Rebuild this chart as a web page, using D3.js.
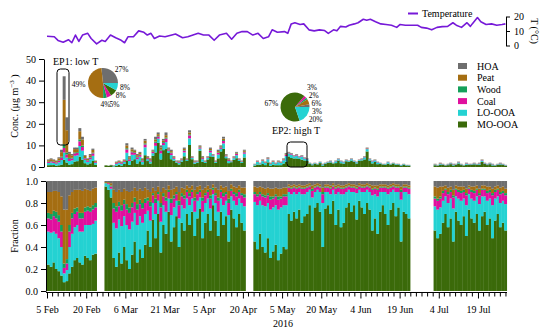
<!DOCTYPE html>
<html><head><meta charset="utf-8">
<script src="https://cdn.jsdelivr.net/npm/d3@7"></script>
<style>
body{margin:0;background:#fff}
svg{display:block}
text{font-family:"Liberation Serif","Times New Roman",serif;fill:#000}
</style>
</head><body>
<svg id="c" width="550" height="333"></svg>
<script>
// ---------------- DATA ----------------
const species = ["MO-OOA","LO-OOA","Coal","Wood","Peat","HOA"];          // stack order bottom -> top
const legendKeys = ["HOA","Peat","Wood","Coal","LO-OOA","MO-OOA"];
const colors = {"HOA":"#6e6e6e","Peat":"#a56e12","Wood":"#14a05a","Coal":"#e0109e","LO-OOA":"#24d2d2","MO-OOA":"#3b6a0a"};

// measurement periods (daily points)
const segStarts  = ["2016-02-05","2016-02-27","2016-04-24","2016-07-02"];
const segLengths = [19,54,60,28];

// total concentration (ug m-3) per day
const total = [
 3.5,4,3.5,3,4.5,8,42,23,7,6,9,9,18,14,5.5,4,6,8.5,3,
 0.8,0.6,1,0.8,2.5,3,2.5,3.5,11,5, 9,8,6,7,4,13,5,4,8,14, 16,10,13,16,9,8,5,3,3,4, 9,4,17,5,3,3,10,5,3,5, 9,6,3,8,10,14,6,4,3,5, 7,4,3,8,
 1.5,3,2,3.5,2.5,4.5,2,3,2,3, 2.5,4,6.5,7,6.5,5.5,6,5,5.5,4.5, 4,2,1.5,2,1.5,2.5,1.5,2,2.5,3, 2,3,4,3,2.5,3.5,3,4,3,2.5, 3.5,4,5,9,4,3,3.5,2.5,2,1.5, 1.5,2.5,1.5,2,1.5,1.5,1,1.5,1,1,
 1.5,1,2,1.5,1,1.5,2,1.5,1.5,2.5, 1.5,1,2,1.5,1.5,2,1.5,2,3.5,2, 1.5,2,1.5,1,1.5,2,1.5,1
];

// fractions (%) per day
const fMO = [
 24,22,26,20,18,14,8,9,16,22,28,30,26,24,32,30,28,33,34,
 95,92,85, 30,22,35,25,40,28,20,33,45,26,38,30,42, 55,40,65,48,70,35,60,52,72,45,58,68,40,62,55,70, 60,72,50,66,75,48,62,70,55,78,64,50,72,60,68,45,74,66,58,70,62,55,
 45,38,52,40,35,48,30,36,42,28,34,40,38, 70,64,72,66,74,62,68,70,78,55, 76,80,72,40,75,78,70,82,60,74, 58,62,76,80,72,78,65,82,76,70, 80,74,55,66,52,72,78,70,60,74, 80,68,76,45,72,70,66,
 55,48,52,62,70,58,66,45,72,64, 60,68,50,74,66,62,70,55,68,72, 60,66,48,64,70,58,62,55
];
const fLO = [
 30,31,28,32,30,26,8,10,24,30,30,30,28,30,28,30,32,28,30,
 3,5,8, 32,35,30,34,28,32,36,30,26,34,30,32,28, 18,24,15,22,12,28,18,20,12,24,18,14,26,16,20,14, 18,12,22,16,10,24,18,14,20,10,16,22,12,18,14,24,12,16,20,14,18,22,
 36,40,30,38,42,32,44,40,36,46,42,38,40, 20,24,18,22,16,26,20,20,14,30, 14,12,18,40,15,12,18,10,28,16, 30,26,14,12,18,12,24,10,14,20, 12,16,32,22,34,18,12,20,28,16, 12,22,14,38,18,20,22,
 22,26,24,20,16,22,18,30,14,20, 22,16,28,14,18,20,16,24,18,14, 22,18,30,20,16,22,20,24
];
const fCoal = [
 12,12,14,14,15,14,5,6,14,14,12,12,12,12,12,13,12,13,12,
 0,1,2, 13,15,12,14,11,14,15,13,10,14,11,13,10, 9,13,7,10,6,13,8,10,6,11,8,6,12,8,9,6, 8,6,10,6,5,10,7,6,9,4,7,10,6,8,6,11,5,6,8,6,7,8,
 7,8,6,8,8,7,9,8,8,9,8,8,8, 4,5,4,5,4,5,5,4,3,6, 4,3,4,8,4,4,5,3,5,4, 5,5,4,3,4,4,4,3,4,4, 3,4,5,5,6,4,4,4,5,4, 3,4,4,7,4,4,5,
 7,8,8,7,6,8,6,10,6,6, 7,6,9,5,6,7,6,8,6,6, 7,6,9,6,6,8,7,8
];
const fWood = [
 5,5,5,6,6,6,4,4,6,5,5,4,5,5,4,4,4,4,4,
 0,0,1, 5,5,4,5,4,5,5,4,4,5,4,5,4, 3,4,2,4,2,4,3,3,2,4,3,2,4,3,3,2, 3,2,3,2,2,3,2,2,3,2,2,3,2,3,2,4,2,2,3,2,2,3,
 2,2,2,2,2,2,3,2,2,3,2,2,2, 1,1,1,1,1,1,1,1,1,2, 1,1,1,2,1,1,1,1,1,1, 1,1,1,1,1,1,1,1,1,1, 1,1,1,1,1,1,1,1,1,1, 1,1,1,2,1,1,1,
 2,2,2,2,1,2,2,2,1,2, 2,2,2,1,2,2,1,2,1,1, 2,2,2,2,1,2,2,2
];
const fPeat = [
 19,20,18,19,21,26,49,45,27,19,17,16,21,20,17,15,15,15,14,
 1,1,2, 12,13,11,12,10,12,14,11,9,12,10,11,10, 7,9,5,7,5,10,5,7,4,8,6,5,8,5,6,4, 5,4,7,5,4,7,5,4,6,3,5,7,4,5,5,7,4,5,5,4,5,6,
 5,6,5,6,6,5,7,7,6,7,7,6,6, 2,2,2,2,2,2,2,2,2,3, 2,2,2,4,2,2,2,2,2,2, 2,2,2,2,2,2,2,2,2,2, 2,2,3,2,3,2,2,2,2,2, 2,2,2,3,2,2,2,
 9,10,9,4,3,4,3,5,3,3, 4,3,4,2,3,4,3,4,3,3, 4,3,4,3,3,4,4,4
];
const fHOA = [
 10,10,9,9,10,14,26,26,13,10,8,8,8,9,7,8,9,7,6,
 1,1,2, 8,10,8,10,7,9,10,9,6,9,7,9,6, 8,10,6,9,5,10,6,8,4,8,7,5,10,6,7,4, 6,4,8,5,4,8,6,4,7,3,6,8,4,6,5,9,3,5,6,4,6,6,
 5,6,5,6,7,6,7,7,6,7,7,6,6, 3,4,3,4,3,4,4,3,2,4, 3,2,3,6,3,3,4,2,4,3, 4,4,3,2,3,3,4,2,3,3, 2,3,4,4,4,3,3,3,4,3, 2,3,3,5,3,3,4,
 5,6,5,5,4,6,5,8,4,5, 5,5,7,4,5,5,4,7,4,4, 5,5,7,5,4,6,5,7
];

// temperature (days after 5 Feb 2016, deg C)
const tempDay = [0,2.8,4.2,6.2,8.2,9.5,10.9,12.2,13.6,15.6,16.9,19.0,21.0,22.3,24.3,26.3,28.4,29.7,31.0,33.1,
 35.1,37.1,38.4,39.8,41.1,43.1,45.2,47.8,49.2,51.9,53.9,55.9,57.9,59.9,62.0,64.0,66.0,68.7,70.7,72.7,
 74.7,76.7,78.8,80.8,82.8,84.8,86.2,88.2,90.9,92.2,93.5,94.9,96.9,98.3,100.3,102.3,104.3,106.3,107.7,109.7,
 111.0,112.4,114.4,115.7,117.7,119.1,121.1,122.4,123.8,125.8,127.8,129.8,131.9,133.9,135.2,137.2,139.9,141.9,143.3,145.3,
 147.3,149.3,151.3,153.4,155.4,156.7,158.7,160.8,162.1,162.8,164.8,166.1,168.1,170.2,172.2,174.2,175.5];
const tempVal = [6.4,6.0,3.5,2.3,4.0,1.9,7.2,2.8,7.2,8.4,4.8,1.1,3.6,2.8,7.2,5.3,3.6,1.9,6.0,6.0,
 10.1,9.1,7.2,8.4,4.8,6.5,6.0,7.2,7.9,5.3,6.0,7.2,8.4,7.2,7.2,3.6,7.2,8.4,4.3,8.4,
 9.6,9.6,7.2,8.4,4.8,6.0,10.8,9.1,9.6,8.4,14.9,15.7,14.5,14.9,10.8,10.1,10.8,10.3,8.4,10.8,
 10.1,13.2,12.8,14.0,14.9,15.7,18.1,17.4,18.1,16.4,14.9,14.5,14.0,12.5,14.5,14.0,14.0,14.0,12.5,12.0,
 10.8,12.5,13.0,13.2,15.7,14.0,12.5,15.7,13.2,14.9,19.3,16.4,14.5,14.9,14.0,14.5,14.9];

// pies (%) in order HOA, Peat, Wood, Coal, MO-OOA, LO-OOA
const pieKeys = ["HOA","Peat","Wood","Coal","MO-OOA","LO-OOA"];
const pieEP1 = [27,49,4,5,8,8];
const pieEP2 = [3,6,2,3,67,20];

// ticks
const xTickDates = ["2016-02-05","2016-02-20","2016-03-06","2016-03-21","2016-04-05","2016-04-20",
                    "2016-05-05","2016-05-20","2016-06-04","2016-06-19","2016-07-04","2016-07-19"];
const concTicks = [0,10,20,30,40,50];
const fracTicks = [0,0.2,0.4,0.6,0.8,1.0];
const tempTicks = [0,10,20];

// ---------------- CHART ----------------
const svg = d3.select("#c");
const serif = "Liberation Serif, Times New Roman, serif";
const DAY = 864e5;
const t0 = Date.UTC(2016,1,5);
const x = d3.scaleUtc().domain([new Date(t0), new Date(t0+176*DAY)]).range([47, 506.7]);
const yC = d3.scaleLinear().domain([0,50]).range([167,59]);
const yF = d3.scaleLinear().domain([0,1]).range([291,181]);
const yT = d3.scaleLinear().domain([0,20]).range([45.5,16.5]);

const dates = [];
segStarts.forEach((s,i)=>{const b=Date.parse(s+"T00:00:00Z");for(let k=0;k<segLengths[i];k++)dates.push(new Date(b+k*DAY));});
const fr = {"MO-OOA":fMO,"LO-OOA":fLO,"Coal":fCoal,"Wood":fWood,"Peat":fPeat,"HOA":fHOA};
const fracRows = dates.map((d,i)=>{const r={date:d};let s=0;species.forEach(k=>s+=(fr[k][i]||0));species.forEach(k=>r[k]=s?(fr[k][i]||0)/s:0);return r;});
const concRows = fracRows.map((r,i)=>{const o={date:r.date};species.forEach(k=>o[k]=r[k]*(total[i]||0));return o;});
const stack = d3.stack().keys(species);
const bw = d => x(new Date(+d.data.date+DAY)) - x(d.data.date) + 0.35;

function drawStack(rows, y){
  const g = svg.append("g");
  stack(rows).forEach(layer=>{
    g.append("g").attr("fill",colors[layer.key])
     .selectAll("rect").data(layer).join("rect")
     .attr("x",d=>x(d.data.date)).attr("width",bw)
     .attr("y",d=>y(d[1])).attr("height",d=>Math.max(0,y(d[0])-y(d[1])));
  });
}
drawStack(concRows, yC);
drawStack(fracRows, yF);

// temperature line
const tData = tempDay.map((d,i)=>({date:new Date(t0+d*DAY),v:tempVal[i]}));
svg.append("path").datum(tData).attr("fill","none").attr("stroke","#7619d8").attr("stroke-width",1.6)
  .attr("stroke-linejoin","round")
  .attr("d",d3.line().x(d=>x(d.date)).y(d=>yT(d.v)));

// axes
function styleAxis(g){g.attr("font-family",serif).attr("font-size",10);
  g.selectAll("text").attr("fill","#000");g.selectAll("line,path").attr("stroke","#000");}
svg.append("g").attr("transform","translate(44,0)")
  .call(d3.axisLeft(yC).tickValues(concTicks).tickSize(5).tickSizeOuter(0).tickPadding(3)).call(styleAxis);
svg.append("g").attr("transform","translate(46,0)")
  .call(d3.axisLeft(yF).tickValues(fracTicks).tickFormat(d3.format(".1f")).tickSize(5).tickSizeOuter(0).tickPadding(3)).call(styleAxis);
svg.append("g").attr("transform","translate(506,0)")
  .call(d3.axisRight(yT).tickValues(tempTicks).tickSize(4).tickSizeOuter(0).tickPadding(4)).call(styleAxis);

const majors = xTickDates.map(s=>new Date(Date.parse(s+"T00:00:00Z")));
const xa = svg.append("g").attr("transform","translate(0,292.5)")
  .call(d3.axisBottom(x).tickValues(majors).tickFormat(d3.utcFormat("%-d %b")).tickSize(6).tickSizeOuter(0).tickPadding(7))
  .call(styleAxis);
xa.select(".domain").attr("d","M46,0H507");
const minors = [];
majors.forEach(m=>{for(let k=1;k<7;k++){const t=new Date(+m+k*15/7*DAY); if(t<=x.domain()[1]) minors.push(t);}});
xa.selectAll(".minor").data(minors).join("line").attr("class","minor")
  .attr("x1",d=>x(d)).attr("x2",d=>x(d)).attr("y1",0).attr("y2",4).attr("stroke","#000");

// axis titles
const ct = svg.append("text").attr("transform","translate(18,106) rotate(-90)").attr("text-anchor","middle").attr("font-size",10).attr("font-family",serif);
ct.append("tspan").text("Conc. (μg m");
ct.append("tspan").attr("dy",-4).attr("font-size",7).text("−3");
ct.append("tspan").attr("dy",4).text(" )");
svg.append("text").attr("transform","translate(18,236) rotate(-90)").attr("text-anchor","middle").attr("font-size",10).attr("font-family",serif).text("Fraction");
svg.append("text").attr("x",283).attr("y",327).attr("text-anchor","middle").attr("font-size",10).attr("font-family",serif).text("2016");
svg.append("text").attr("transform","translate(531,31) rotate(90)").attr("text-anchor","middle").attr("font-size",10).attr("font-family",serif).text("T (°C)");

// temperature legend
svg.append("line").attr("x1",408).attr("x2",418).attr("y1",13.5).attr("y2",13.5).attr("stroke","#7619d8").attr("stroke-width",2);
svg.append("text").attr("x",422).attr("y",17).attr("font-size",10).attr("font-family",serif).text("Temperature");

// species legend
const lg = svg.append("g");
legendKeys.forEach((k,i)=>{
  const yy = 66 + i*11.7;
  lg.append("rect").attr("x",458).attr("y",yy-3).attr("width",9).attr("height",6).attr("fill",colors[k]);
  lg.append("text").attr("x",477).attr("y",yy+3.5).attr("font-size",10).attr("font-family",serif).text(k);
});

// episode boxes & labels
svg.append("rect").attr("x",57).attr("y",69).attr("width",12).attr("height",76).attr("rx",3.5).attr("fill","none").attr("stroke","#000").attr("stroke-width",1);
svg.append("text").attr("x",53).attr("y",65).attr("font-size",10).attr("font-family",serif).text("EP1: low T");
svg.append("rect").attr("x",287).attr("y",142).attr("width",20).attr("height",25).attr("rx",3.5).attr("fill","none").attr("stroke","#000").attr("stroke-width",1);
svg.append("text").attr("x",296).attr("y",134).attr("text-anchor","middle").attr("font-size",10).attr("font-family",serif).text("EP2: high T");

// pies
const pie = d3.pie().sort(null).startAngle(Math.PI/2).endAngle(Math.PI/2-2*Math.PI);
function drawPie(vals,cx,cy,r){
  const g = svg.append("g").attr("transform",`translate(${cx},${cy})`);
  const arcs = pie(vals);
  const arc = d3.arc().innerRadius(0).outerRadius(r);
  g.selectAll("path").data(arcs).join("path").attr("d",arc).attr("fill",(d,i)=>colors[pieKeys[i]]);
  const R = r+2.5, fs = 7.5, h = 8;
  const la = d3.arc().innerRadius(R).outerRadius(R);
  const labs = arcs.map(d=>{
    const [lx,ly] = la.centroid(d);
    const txt = d.data+"%";
    const side = ly > 0.75*R ? "bottom" : (lx>=0 ? "right" : "left");
    return {txt,lx,ly,side,w:txt.length*fs*0.5};
  });
  ["right","left"].forEach(s=>{
    const L = labs.filter(l=>l.side===s).sort((a,b)=>a.ly-b.ly);
    if(!L.length) return;
    const orig = L.map(l=>l.ly);
    for(let i=1;i<L.length;i++) L[i].ly = Math.max(L[i].ly, L[i-1].ly+h);
    const shift = d3.mean(L,(l,i)=>l.ly-orig[i]);
    L.forEach(l=>{ l.ly -= shift;
      const minx = Math.sqrt(Math.max(0,R*R-l.ly*l.ly));
      l.lx = s==="right" ? Math.max(l.lx,minx) : Math.min(l.lx,-minx);
      l.anchor = s==="right" ? "start" : "end"; });
  });
  const B = labs.filter(l=>l.side==="bottom").sort((a,b)=>a.lx-b.lx);
  for(let i=0;i<B.length;i++){
    if(i>0) B[i].lx = Math.max(B[i].lx, B[i-1].lx + (B[i-1].w+B[i].w)/2 + 1.5);
    B[i].ly = R + 4; B[i].anchor = "middle";
  }
  g.selectAll("text").data(labs).join("text")
    .attr("x",d=>d.lx).attr("y",d=>d.ly).attr("dy","0.35em").attr("text-anchor",d=>d.anchor)
    .attr("font-size",fs).attr("font-family",serif).text(d=>d.txt);
}
drawPie(pieEP1,103,83,15);
drawPie(pieEP2,295,107,14.5);
</script>
</body></html>
